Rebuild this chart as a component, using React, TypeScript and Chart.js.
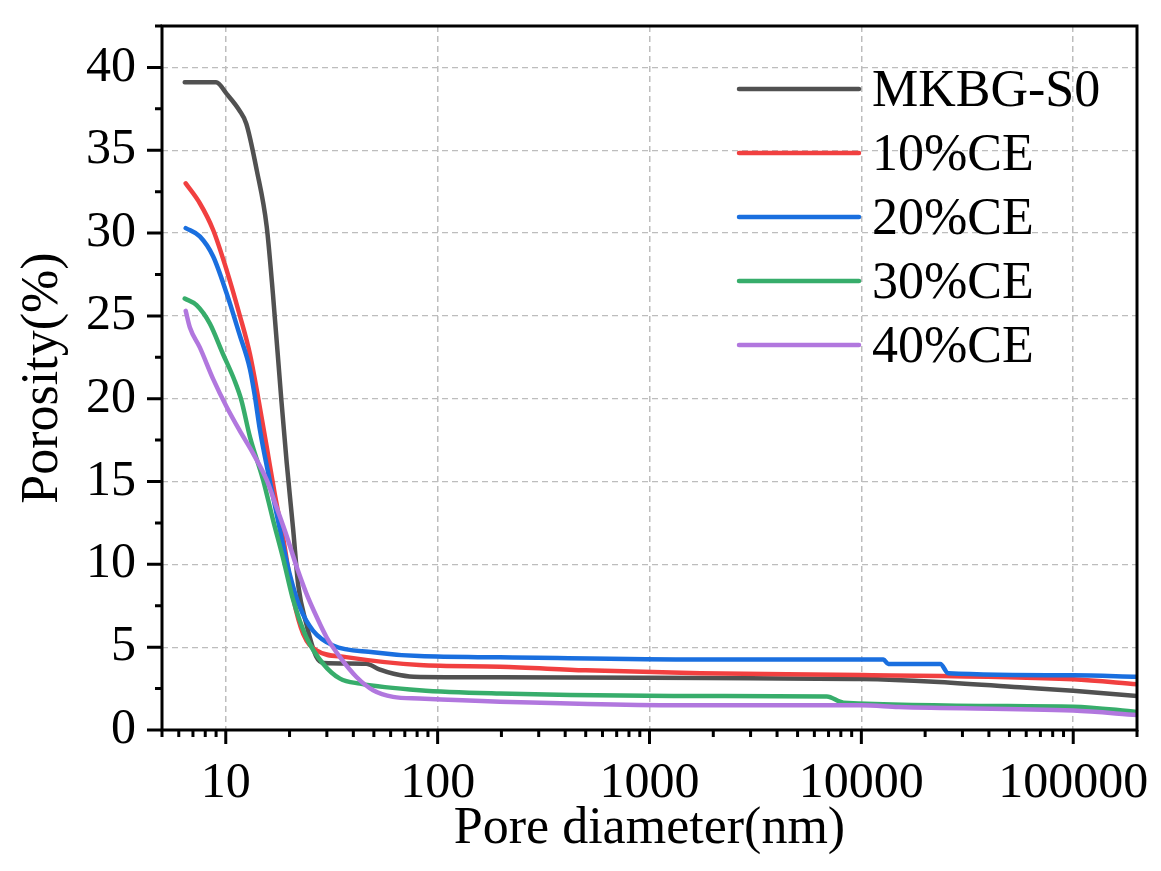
import { useEffect, useRef } from 'react';
import { Chart, registerables } from 'chart.js';

Chart.register(...registerables);

const seriesNames = ['MKBG-S0', '10%CE', '20%CE', '30%CE', '40%CE'];
const seriesColors = ['#515151', '#F14040', '#1A6FDF', '#37AD6B', '#B177DE'];

const s0X = [6.4, 9.0, 10.1, 11.6, 12.5, 14.0, 15.6, 16.7, 18.3, 19.4, 20.8, 22.0, 24.0, 26.8, 29, 46, 53, 62, 77, 197, 1000, 3000, 10000, 22000, 56000, 100000, 200000];
const s0Y = [39.1, 39.1, 38.4, 37.4, 36.6, 33.8, 30.4, 26.3, 19.9, 16.1, 12.1, 8.7, 6.4, 4.4, 4.05, 4.0, 3.66, 3.4, 3.22, 3.18, 3.15, 3.12, 3.08, 2.92, 2.58, 2.37, 2.05];

const s10X = [6.47, 7.54, 8.71, 10.1, 11.6, 13.0, 14.2, 15.6, 17.0, 18.7, 20.8, 23.2, 26.8, 37, 82, 197, 500, 1740, 10000, 100000, 200000];
const s10Y = [33.0, 31.8, 30.2, 27.75, 25.1, 22.7, 20.1, 17.1, 14.3, 11.5, 8.0, 5.8, 4.8, 4.4, 3.92, 3.82, 3.6, 3.42, 3.32, 3.06, 2.76];

const s20X = [6.47, 7.54, 8.71, 10.1, 11.6, 13.0, 13.7, 14.5, 16.1, 18.0, 20.0, 22.4, 25.8, 32.1, 49.6, 82, 197, 1740, 12700, 13400, 23600, 25700, 100000, 200000];
const s20Y = [30.3, 29.8, 28.6, 26.35, 23.9, 21.8, 20.2, 18.1, 15.1, 12.1, 9.45, 7.4, 6.0, 5.1, 4.7, 4.46, 4.39, 4.26, 4.26, 3.98, 3.98, 3.42, 3.3, 3.22];

const s30X = [6.4, 7.28, 8.4, 9.7, 11.0, 11.85, 13.0, 15.0, 16.7, 18.7, 20.8, 24.0, 28.8, 34.6, 43, 82, 197, 1740, 6870, 8240, 100000, 200000];
const s30Y = [26.05, 25.65, 24.55, 22.7, 21.1, 19.9, 17.7, 15.1, 12.7, 10.3, 7.85, 5.6, 4.0, 3.1, 2.8, 2.4, 2.2, 2.05, 2.02, 1.65, 1.41, 1.09];

const s40X = [6.47, 6.77, 7.54, 8.71, 10.1, 11.6, 13.45, 15.6, 17.3, 19.4, 21.6, 24.0, 26.8, 29.9, 34.6, 41.4, 49.6, 61.6, 82, 197, 1740, 10000, 15000, 100000, 200000];
const s40Y = [25.3, 24.3, 23.1, 21.2, 19.5, 18.1, 16.7, 15.1, 13.5, 11.7, 9.85, 8.25, 6.85, 5.6, 4.4, 3.2, 2.4, 2.0, 1.9, 1.71, 1.49, 1.49, 1.39, 1.17, 0.9];

const seriesX = [s0X, s10X, s20X, s30X, s40X];
const seriesY = [s0Y, s10Y, s20Y, s30Y, s40Y];

// log axis ticks: 5..9, then every 1..9 x 10^n up to 2e5
const xTickValues = [5, 6, 7, 8, 9, 10, 20, 30, 40, 50, 60, 70, 80, 90, 100, 200, 300, 400, 500, 600, 700, 800, 900, 1000, 2000, 3000, 4000, 5000, 6000, 7000, 8000, 9000, 10000, 20000, 30000, 40000, 50000, 60000, 70000, 80000, 90000, 100000, 200000];

const FONT = '"Liberation Serif", "Times New Roman", serif';
const GRID = '#bdbdbd';

const isDecade = (v: number) => Math.abs(Math.log10(v) - Math.round(Math.log10(v))) < 1e-9;

const framePlugin = {
  id: 'frameAndTicks',
  afterDraw(chart: any) {
    const { ctx, chartArea } = chart;
    const { left, right, top, bottom } = chartArea;
    const xs = chart.scales.x;
    const ys = chart.scales.y;
    ctx.save();
    ctx.strokeStyle = '#000';
    ctx.lineWidth = 3;
    ctx.lineCap = 'butt';
    ctx.beginPath();
    xs.ticks.forEach((t: any) => {
      const px = xs.getPixelForValue(t.value);
      ctx.moveTo(px, bottom);
      ctx.lineTo(px, bottom + (isDecade(t.value) ? 14 : 7));
    });
    ys.ticks.forEach((t: any) => {
      const py = ys.getPixelForValue(t.value);
      ctx.moveTo(left, py);
      ctx.lineTo(left - (t.value % 5 === 0 ? 15 : 7), py);
    });
    ctx.stroke();
    ctx.lineCap = 'square';
    ctx.strokeRect(left, top, right - left, bottom - top);

    // legend inside the plot
    ctx.font = `52px ${FONT}`;
    ctx.textAlign = 'left';
    ctx.textBaseline = 'alphabetic';
    chart.data.datasets.forEach((ds: any, i: number) => {
      const y = top + 63 + i * 64;
      ctx.strokeStyle = ds.borderColor;
      ctx.lineWidth = 4.5;
      ctx.lineCap = 'round';
      ctx.beginPath();
      ctx.moveTo(left + 577, y);
      ctx.lineTo(left + 697, y);
      ctx.stroke();
      ctx.fillStyle = '#000';
      ctx.fillText(ds.label, left + 710, y + 17);
    });
    ctx.restore();
  },
};

function PorosityChart() {
  const canvasRef = useRef<HTMLCanvasElement>(null);

  useEffect(() => {
    document.body.style.margin = '0';
    if (!canvasRef.current) return;
    const ctx = canvasRef.current.getContext('2d');
    if (!ctx) return;

    const chart = new Chart(ctx, {
      type: 'line',
      data: {
        datasets: seriesNames.map((name, i) => ({
          label: name,
          data: seriesX[i].map((x, j) => ({ x, y: seriesY[i][j] })),
          borderColor: seriesColors[i],
          backgroundColor: seriesColors[i],
          borderWidth: 4.5,
          pointRadius: 0,
          cubicInterpolationMode: 'monotone' as const,
          borderCapStyle: 'round' as const,
          borderJoinStyle: 'round' as const,
          order: 5 - i,
        })),
      },
      options: {
        animation: false,
        responsive: true,
        maintainAspectRatio: false,
        layout: { padding: { top: 26, right: 24, left: 0, bottom: 0 } },
        plugins: {
          legend: { display: false },
          tooltip: { enabled: false },
        },
        scales: {
          x: {
            type: 'logarithmic',
            min: 5,
            max: 200000,
            afterBuildTicks: (scale: any) => {
              scale.ticks = xTickValues.map((value) => ({ value }));
            },
            afterFit: (scale: any) => {
              scale.height = 141;
              scale.paddingLeft = 0;
              scale.paddingRight = 0;
            },
            grid: {
              drawTicks: false,
              lineWidth: 1.5,
              color: (c: any) => (c.tick && isDecade(c.tick.value) && c.tick.value < 200000 ? GRID : 'rgba(0,0,0,0)'),
            },
            border: { display: false, dash: [6, 4] },
            ticks: {
              autoSkip: false,
              maxRotation: 0,
              padding: 24,
              color: '#000',
              font: { family: FONT, size: 50 },
              callback: (v: any) => (isDecade(Number(v)) ? String(v) : ''),
            },
            title: {
              display: true,
              text: 'Pore diameter(nm)',
              color: '#000',
              font: { family: FONT, size: 52 },
              padding: { top: 0, bottom: 10 },
            },
          },
          y: {
            min: 0,
            max: 42.5,
            afterFit: (scale: any) => {
              scale.width = 162;
              scale.paddingTop = 0;
              scale.paddingBottom = 0;
            },
            grid: {
              drawTicks: false,
              lineWidth: 1.2,
              color: (c: any) => (c.tick && c.tick.value % 5 === 0 && c.tick.value > 0 ? GRID : 'rgba(0,0,0,0)'),
            },
            border: { display: false, dash: [6, 4] },
            ticks: {
              stepSize: 2.5,
              autoSkip: false,
              padding: 26,
              color: '#000',
              font: { family: FONT, size: 50 },
              callback: (v: any) => (Number(v) % 5 === 0 ? String(v) : ''),
            },
            title: {
              display: true,
              text: 'Porosity(%)',
              color: '#000',
              font: { family: FONT, size: 52 },
              padding: { top: 12, bottom: 0 },
            },
          },
        },
      },
      plugins: [framePlugin],
    });

    return () => chart.destroy();
  }, []);

  return <canvas ref={canvasRef} />;
}

export default function App() {
  return (
    <div style={{ width: 1161, height: 871, position: 'relative', background: '#fff' }}>
      <PorosityChart />
    </div>
  );
}
